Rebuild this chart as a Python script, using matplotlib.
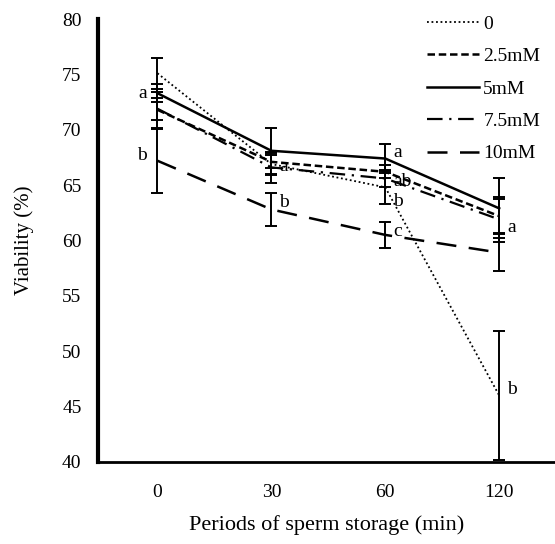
import numpy as np
import matplotlib
matplotlib.use('Agg')
import matplotlib.pyplot as plt
from matplotlib.lines import Line2D

plt.rcParams['font.family'] = 'Liberation Serif'

periods = ['0', '30', '60', '120']
labels = ['0', '2.5mM', '5mM', '7.5mM', '10mM']

# viability means and SD per concentration
v_0 = [75.1, 66.9, 64.8, 46.0]
v_25 = [71.8, 67.1, 66.2, 62.2]
v_5 = [73.3, 68.1, 67.4, 62.9]
v_75 = [71.9, 66.6, 65.6, 61.9]
v_10 = [67.2, 62.8, 60.5, 58.9]

sd_0 = [1.4, 1.0, 1.5, 5.8]
sd_25 = [1.6, 0.6, 0.6, 1.5]
sd_5 = [0.8, 2.1, 1.3, 2.7]
sd_75 = [1.0, 1.4, 0.8, 2.0]
sd_10 = [2.9, 1.5, 1.2, 1.7]

letters = [('a', 0, 73.3, 'right'), ('b', 0, 67.7, 'right'),
           ('a', 1, 66.7, 'left'), ('b', 1, 63.4, 'left'),
           ('a', 2, 67.9, 'left'), ('ab', 2, 65.3, 'left'),
           ('b', 2, 63.5, 'left'), ('c', 2, 60.8, 'left'),
           ('a', 3, 61.2, 'left'), ('b', 3, 46.5, 'left')]

x = np.arange(len(periods))

fig = plt.figure(figsize=(5.55, 5.44), dpi=100)
ax = fig.add_axes([0.177, 0.151, 0.823, 0.814])

styles = [(0, (1, 1.5)), (0, (3, 1.5)), '-', (0, (7, 3, 1, 3)), (0, (8, 5))]
widths = [1.3, 1.8, 1.8, 1.6, 1.8]
means = [v_0, v_25, v_5, v_75, v_10]
sds = [sd_0, sd_25, sd_5, sd_75, sd_10]

handles = []
for m, s, ls, lw, lab in zip(means, sds, styles, widths, labels):
    ax.errorbar(x, m, yerr=s, color='black', linestyle=ls, linewidth=lw,
                elinewidth=1.4, capsize=4, capthick=1.4)
    handles.append(Line2D([], [], color='black', linestyle=ls, linewidth=lw, label=lab))

for txt, xi, yi, side in letters:
    off = -0.09 if side == 'right' else 0.07
    ax.text(xi + off, yi, txt, ha=side, va='center', fontsize=14)

ax.set_xlim(-0.52, 3.49)
ax.set_ylim(40, 80)
ax.set_yticks(range(40, 81, 5))
ax.set_xticks(x)
ax.set_xticklabels(periods)
ax.tick_params(length=0, labelsize=14)
ax.tick_params(axis='y', pad=12)
ax.tick_params(axis='x', pad=16)

ax.spines['top'].set_visible(False)
ax.spines['right'].set_visible(False)
ax.spines['left'].set_linewidth(3)
ax.spines['bottom'].set_linewidth(2)

ax.set_xlabel('Periods of sperm storage (min)', fontsize=16, labelpad=10)
ax.set_ylabel('Viability (%)', fontsize=15, labelpad=20)

leg = ax.legend(handles=handles, loc='upper right', frameon=False, fontsize=14,
                handlelength=2.7, handletextpad=0.2, labelspacing=0.76,
                borderaxespad=0, bbox_to_anchor=(0.985, 1.026))

fig.savefig('out.png', dpi=100)
